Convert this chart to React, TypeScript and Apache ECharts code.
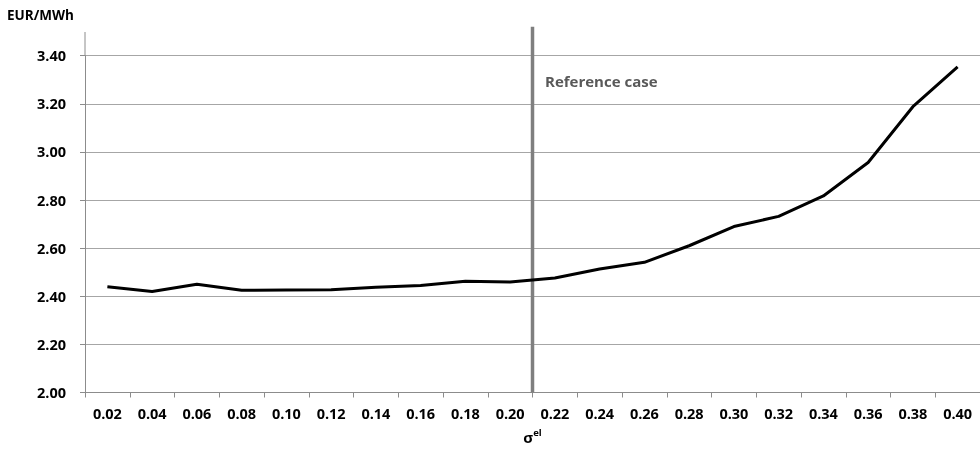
import React, { useEffect, useRef } from "react";
import * as echarts from "echarts";

const categories = ["0.02","0.04","0.06","0.08","0.10","0.12","0.14","0.16","0.18","0.20","0.22","0.24","0.26","0.28","0.30","0.32","0.34","0.36","0.38","0.40"];
const costValues = [2.44,2.42,2.45,2.425,2.426,2.427,2.438,2.445,2.462,2.459,2.476,2.513,2.541,2.61,2.69,2.732,2.817,2.956,3.188,3.354];
const yTicks = { min: 2.0, max: 3.4, interval: 0.2 };
const referenceSigma = 0.21;
const referenceLabel = "Reference case";
const yUnit = "EUR/MWh";

const FONT = "Open Sans";

export default function App() {
  const ref = useRef<HTMLDivElement>(null);
  useEffect(() => {
    if (!ref.current) return;
    const chart = echarts.init(ref.current, null, { renderer: "svg" });
    const gridLeft = 85;
    const gridTop = 55.7;
    const gridBottom = 56;
    chart.setOption({
      animation: false,
      grid: { left: gridLeft, right: -2.6, top: gridTop, bottom: gridBottom, containLabel: false },
      xAxis: [
        {
          type: "category",
          data: categories,
          boundaryGap: true,
          axisLine: { lineStyle: { color: "#8c8c8c", width: 1 } },
          axisTick: { show: true, alignWithLabel: false, length: 5, lineStyle: { color: "#8c8c8c" } },
          axisLabel: { color: "#000", fontFamily: FONT, fontWeight: "bold", fontSize: 14.5, margin: 13, interval: 0 },
          splitLine: { show: false },
          name: "{s|σ}{sup|el}",
          nameLocation: "middle",
          nameGap: 35,
          nameTextStyle: {
            rich: {
              s: { fontFamily: FONT, fontWeight: "bold", fontSize: 15, color: "#000" },
              sup: { fontFamily: FONT, fontWeight: "bold", fontSize: 9.5, color: "#000", verticalAlign: "top", padding: [0, 0, 8, 0] },
            },
          },
        },
        {
          type: "value",
          min: 0.01,
          max: 0.41,
          show: false,
        },
      ],
      yAxis: {
        type: "value",
        min: yTicks.min,
        max: yTicks.max,
        interval: yTicks.interval,
        axisLine: { show: true, lineStyle: { color: "#8c8c8c" } },
        axisTick: { show: true, length: 5, lineStyle: { color: "#8c8c8c" } },
        axisLabel: { color: "#000", fontFamily: FONT, fontWeight: "bold", fontSize: 14.5, margin: 19, formatter: (v: number) => v.toFixed(2) },
        splitLine: { show: true, lineStyle: { color: "#a6a6a6", width: 1 } },
      },
      graphic: [
        {
          type: "line",
          shape: { x1: gridLeft, y1: 32, x2: gridLeft, y2: gridTop },
          style: { stroke: "#8c8c8c", lineWidth: 1 },
          silent: true,
        },
        {
          type: "text",
          left: 7,
          top: 8,
          style: { text: yUnit, fontFamily: FONT, fontWeight: "bold", fontSize: 13.5, fill: "#000" },
        },
        {
          type: "text",
          left: 545,
          top: 73,
          style: { text: referenceLabel, fontFamily: FONT, fontWeight: "bold", fontSize: 15, fill: "#595959" },
        },
      ],
      series: [
        {
          type: "line",
          xAxisIndex: 1,
          data: [[referenceSigma, yTicks.min], [referenceSigma, 3.52]],
          clip: false,
          symbol: "none",
          lineStyle: { color: "#7f7f7f", width: 3.5 },
          silent: true,
          z: 1,
        },
        {
          type: "line",
          xAxisIndex: 0,
          data: costValues,
          symbol: "none",
          lineStyle: { color: "#000", width: 3 },
          z: 3,
        },
      ],
    });
    return () => chart.dispose();
  }, []);
  return <div ref={ref} style={{ position: "fixed", left: 0, top: 0, width: 980, height: 449 }} />;
}
